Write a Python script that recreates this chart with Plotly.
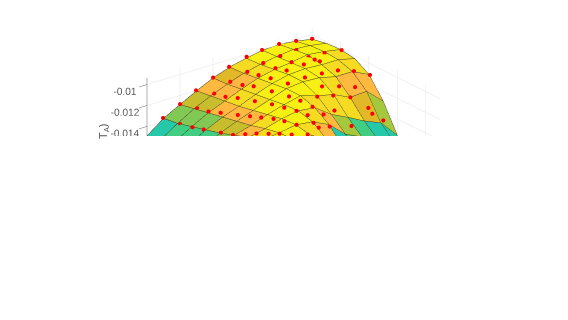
import plotly.graph_objects as go
import numpy as np

# Surface heights (x 1e-3); rows = grid i 0..10, columns = grid j 0..9
surface_z = [
[-14.93,-14.56,-14.09,-13.63,-13.25,-12.79,-12.32,-11.86,-11.39,-10.93],
[-13.72,-13.53,-13.16,-12.79,-12.42,-11.95,-11.49,-11.02,-10.65,-10.28],
[-12.88,-12.60,-12.32,-12.05,-11.77,-11.49,-11.12,-10.84,-10.84,-10.93],
[-12.05,-11.86,-11.67,-11.49,-11.21,-10.93,-10.65,-10.56,-10.84,-11.39],
[-11.30,-11.21,-11.02,-10.84,-10.65,-10.46,-10.37,-10.74,-11.77,-12.98],
[-10.74,-10.65,-10.46,-10.28,-10.09,-10.09,-10.56,-11.49,-12.98,-14.37],
[-10.37,-10.28,-10.09,-9.91,-9.91,-10.56,-11.67,-12.88,-14.09,-15.30],
[-10.09,-10.00,-9.91,-9.81,-10.00,-10.93,-12.42,-13.63,-15.02,-16.23],
[-10.00,-9.81,-9.63,-9.91,-10.37,-11.67,-13.25,-14.46,-15.95,-17.16],
[-10.18,-9.91,-9.81,-9.91,-10.37,-11.58,-13.91,-15.21,-16.88,-18.09],
[-10.46,-10.18,-10.09,-10.28,-11.12,-12.98,-15.58,-17.53,-18.74,-19.49],
]
# Colour level of each face
face_levels = ["TSSSNNLLL","NNNLLOyYY","LLOOOyYYY","OOyyYYYyO","GOyYYYyOT","yyYYYyOTT","YYYYYyMST","YYYYyySTT","YYYyOGTTT","YYyyOMTTT"]
palette = dict(T="#26c8aa",S="#41cd82",N="#82c855",M="#a5c83c",L="#c8be2d",G="#e1b928",O="#ffb941",y="#f5dc23",Y="#f8f014")

# Measured points
point_i = [.97,2,2.97,4,4.97,6.03,6.97,8,9.03,10,
 1.15,2.18,3.21,4.18,5.21,6.18,7.21,8.18,
 1.03,2,3.03,4.06,5.03,6.06,7.03,8.06,9.03,10,
 .85,1.88,2.91,3.88,4.91,6.03,7.13,7.97,7.91,
 1.03,2.06,3.09,4.12,5.09,6.19,7.15,8.12,9.09,10,
 .91,1.94,3.27,4.3,6.3,7.33,8.3,
 .79,1.76,3.15,4.26,5.21,6.12,7.15,8.24,9.15,8.48,
 .61,1.88,3.35,4.26,4.67,5.33,6.36,
 .57,2.12,1.15,3.45,2.3,3.21,3.52,4.18,1.88,2.85]
point_j = [0,0,0,0,0,0,0,0,0,0,
 1,1,1,1,1,1,1,1,
 2,2,2,2,2,2,2,2,2,2.07,
 3,3,3,3,3,2.82,2.75,2.9,2.61,
 4,4,4,4,4,3.92,4,4,4,4.07,
 5,5,5,5,5,5,5,
 6,6,6,5.84,5.93,6,6,6,6,6,
 7,6.72,6.63,6.7,7,7,7,
 7.9,7.21,8,7.3,7.85,8,8,8,8,8]
point_z = [-13.65,-12.82,-11.97,-11.24,-10.67,-10.23,-10.02,-9.94,-10.14,-10.40,
 -13.64,-12.63,-11.71,-11.05,-10.59,-10.21,-10.04,-9.93,
 -13.21,-12.17,-11.26,-10.62,-10.14,-9.97,-9.86,-9.87,-9.95,-10.08,
 -12.66,-11.56,-10.64,-9.98,-9.71,-9.62,-9.62,-9.62,-9.62,
 -12.37,-11.18,-10.35,-9.90,-9.62,-9.62,-9.64,-9.81,-10.35,-11.10,
 -11.85,-10.56,-10.06,-9.80,-9.80,-10.28,-10.82,
 -11.05,-9.92,-9.64,-9.62,-9.62,-9.90,-10.57,-12.10,-13.73,-12.77,
 -10.22,-9.62,-9.62,-9.62,-10.34,-10.28,-12.25,
 -9.62,-9.62,-9.82,-9.62,-9.62,-9.76,-10.37,-10.58,-10.26,-10.71]
z_ticks = [-0.01,-0.012,-0.014,-0.016,-0.018,-0.02,-0.022]
z_labels = ["-0.01","-0.012","-0.014","-0.016","-0.018","-0.02","-0.022"]

Z = np.array(surface_z)*1e-3
I, J = Z.shape
ii, jj = np.meshgrid(range(I), range(J), indexing="ij")
idx = lambda a,b: a*J+b
fi=[];fj=[];fk=[];fc=[]
for a in range(I-1):
    for b in range(J-1):
        fi += [idx(a,b),idx(a+1,b)]; fj += [idx(a+1,b),idx(a+1,b+1)]; fk += [idx(a,b+1),idx(a,b+1)]
        fc += [palette[face_levels[a][b]]]*2
fig = go.Figure()
fig.add_trace(go.Mesh3d(x=jj.ravel(),y=ii.ravel(),z=Z.ravel(),i=fi,j=fj,k=fk,facecolor=fc,showscale=False,
    flatshading=True,lighting=dict(ambient=1,diffuse=0,specular=0,roughness=1,fresnel=0)))
lx=[];ly=[];lz=[]
for a in range(I):
    lx+=list(jj[a])+[None];ly+=list(ii[a])+[None];lz+=list(Z[a]+0.00002)+[None]
for b in range(J):
    lx+=list(jj[:,b])+[None];ly+=list(ii[:,b])+[None];lz+=list(Z[:,b]+0.00002)+[None]
fig.add_trace(go.Scatter3d(x=lx,y=ly,z=lz,mode="lines",line=dict(color="#3c3c20",width=1)))
# markers are nudged along the line of sight so the surface does not hide them
fig.add_trace(go.Scatter3d(x=np.array(point_j)+0.2,y=np.array(point_i)-0.17,z=np.array(point_z)*1e-3+0.00022,
    mode="markers",marker=dict(color="#ff0000",size=2.4,line=dict(width=0))))
ax=dict(showbackground=False,showgrid=True,gridcolor="#e4e4e4",gridwidth=1,zeroline=False,showline=False,title="",showticklabels=False,showspikes=False,ticks="")
D=8
u=np.array([.727,-.566,.389])
c=np.array([-.0135,-.0178,1.396])
e=c+D*u
fig.update_layout(width=568,height=320,margin=dict(l=0,r=0,t=0,b=0),paper_bgcolor="white",showlegend=False,
 annotations=[dict(text="T<sub>A</sub>)",x=96/568,y=1-123/320,xref="paper",yref="paper",xanchor="center",yanchor="middle",textangle=-90,showarrow=False,font=dict(family="Liberation Sans",size=11,color="#555555"))],
 scene=dict(domain=dict(x=[0,1],y=[0.6,1]),aspectmode="manual",aspectratio=dict(x=3.25,y=3.27,z=2.362),
  xaxis=dict(ax,range=[0,9],dtick=2),yaxis=dict(ax,range=[0,10],dtick=2),
  zaxis=dict(ax,range=[-0.02265,-0.00935],tickvals=z_ticks,ticktext=z_labels,showticklabels=True,showline=True,linecolor="#666666",linewidth=1,ticks="outside",ticklen=1,tickcolor="#666666",tickangle=0,tickfont=dict(family="Liberation Sans",size=11,color="#555555")),
  camera=dict(projection=dict(type="orthographic"),eye=dict(x=e[0],y=e[1],z=e[2]),center=dict(x=c[0],y=c[1],z=c[2]),up=dict(x=0,y=0,z=1))))
fig.write_html("out.html")
